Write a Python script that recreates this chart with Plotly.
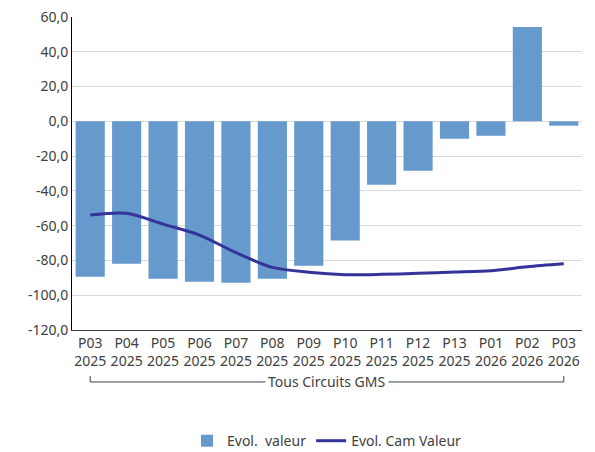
import plotly.graph_objects as go

categories = ["P03 2025", "P04 2025", "P05 2025", "P06 2025", "P07 2025", "P08 2025", "P09 2025",
              "P10 2025", "P11 2025", "P12 2025", "P13 2025", "P01 2026", "P02 2026", "P03 2026"]
tick_labels = [c.replace(" ", "<br>") for c in categories]
evol_valeur = [-89.4, -81.9, -90.5, -92.2, -92.8, -90.5, -83.0, -68.6, -36.4, -28.4, -10.0, -8.3, 54.2, -2.5]
evol_cam_valeur = [-53.9, -52.9, -59.1, -65.4, -75.5, -84.0, -86.8, -88.2, -88.0, -87.4, -86.7, -85.9, -83.6, -81.9]
y_tickvals = [60, 40, 20, 0, -20, -40, -60, -80, -100, -120]
y_ticktext = ["60,0", "40,0", "20,0", "0,0", "-20,0", "-40,0", "-60,0", "-80,0", "-100,0", "-120,0"]
group_label = "Tous Circuits GMS"

FONT = "Noto Sans"
FS = 14
TXT = "#404040"
fig = go.Figure()
fig.add_trace(go.Bar(x=categories, y=evol_valeur, name="Evol.  valeur",
                     marker=dict(color="#6699CC", line=dict(width=0))))
fig.add_trace(go.Scatter(x=categories, y=evol_cam_valeur, name="Evol. Cam Valeur", mode="lines",
                         line=dict(color="#333399", width=3, shape="spline", smoothing=0.8)))

# group bracket under the category labels
y_h = -0.166
y_t = -0.147
for x0, x1, y0, y1 in [(categories[0], categories[-1], y_h, y_h),
                       (categories[0], categories[0], y_t, y_h),
                       (categories[-1], categories[-1], y_t, y_h)]:
    fig.add_shape(type="line", xref="x", yref="paper", x0=x0, x1=x1, y0=y0, y1=y1,
                  line=dict(color=TXT, width=1))
fig.add_annotation(x=0.5, xref="paper", y=y_h, yref="paper", text=group_label, showarrow=False,
                   bgcolor="white", font=dict(family=FONT, size=FS, color=TXT),
                   xanchor="center", yanchor="middle", borderpad=2)

fig.update_layout(
    width=587, height=444,
    margin=dict(l=64, r=13, t=9, b=122, autoexpand=False),
    paper_bgcolor="white", plot_bgcolor="white",
    bargap=0.2,
    font=dict(family=FONT, size=FS, color=TXT),
    showlegend=True,
    legend=dict(orientation="h", x=0.5, xanchor="center", y=-0.355, yanchor="middle",
                font=dict(family=FONT, size=FS, color=TXT), itemwidth=30,
                traceorder="normal"),
)
fig.update_xaxes(type="category", tickmode="array", tickvals=categories, ticktext=tick_labels,
                 showline=True, linecolor=TXT, linewidth=1, showgrid=False, ticks="",
                 automargin=False, tickfont=dict(family=FONT, size=FS, color=TXT))
fig.update_yaxes(range=[-120, 60], tickmode="array", tickvals=y_tickvals, ticktext=y_ticktext,
                 showline=True, linecolor="#000000", linewidth=1, showgrid=True, gridcolor="#D9D9D9",
                 gridwidth=1, zeroline=True, zerolinecolor="#D9D9D9", zerolinewidth=1, ticks="",
                 automargin=False, ticklabeloverflow="allow",
                 tickfont=dict(family=FONT, size=FS, color=TXT))

fig.write_html("out.html")
